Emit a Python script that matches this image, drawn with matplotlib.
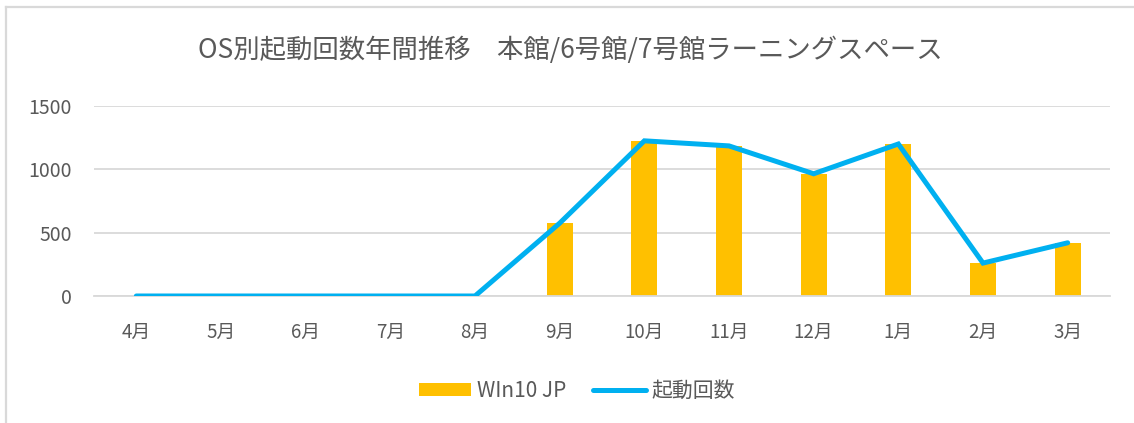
import matplotlib
matplotlib.use("Agg")
import matplotlib.pyplot as plt
from matplotlib.lines import Line2D
from matplotlib.patches import Patch

plt.rcParams['font.family'] = ['Noto Sans CJK JP', 'DejaVu Sans']

months = ['4月', '5月', '6月', '7月', '8月', '9月', '10月', '11月', '12月', '1月', '2月', '3月']
win10_jp = [0, 0, 0, 0, 0, 575, 1225, 1185, 965, 1200, 260, 420]
boot_count = [0, 0, 0, 0, 0, 575, 1225, 1185, 965, 1200, 260, 420]
y_ticks = [0, 500, 1000, 1500]
title = 'OS別起動回数年間推移　本館/6号館/7号館ラーニングスペース'

W, H = 1134, 423
fig = plt.figure(figsize=(W / 100, H / 100), dpi=100)
fig.patch.set_facecolor('white')

# chart border (top and left only visible)
fig.add_artist(Line2D([6 / W, 6 / W], [0, 1 - 7 / H], transform=fig.transFigure,
                      color='#d9d9d9', lw=1.6))
fig.add_artist(Line2D([6 / W, 1], [1 - 7 / H, 1 - 7 / H], transform=fig.transFigure,
                      color='#d9d9d9', lw=1.6))

left, right = 94, 1110
top, bottom = 106, 296
ax = fig.add_axes([left / W, 1 - bottom / H, (right - left) / W, (bottom - top) / H])

x = list(range(len(months)))
ax.bar(x, win10_jp, width=0.31, color='#FFC000', zorder=2, label='WIn10 JP')
ax.plot(x, boot_count, color='#00B0F0', lw=3.6, solid_capstyle='round',
        solid_joinstyle='miter', zorder=3, label='起動回数')

ax.set_xlim(-0.5, len(months) - 0.5)
ax.set_ylim(0, 1500)
ax.set_yticks(y_ticks)
ax.set_yticklabels([str(v) for v in y_ticks])
ax.set_xticks(x)
ax.set_xticklabels(months)
ax.yaxis.grid(True, color='#d9d9d9', lw=1.3, zorder=0)
ax.set_axisbelow(True)
for s in ['top', 'right', 'left']:
    ax.spines[s].set_visible(False)
ax.spines['bottom'].set_color('#d9d9d9')
ax.spines['bottom'].set_linewidth(1.3)
ax.tick_params(axis='both', length=0, colors='#595959')
ax.tick_params(axis='x', pad=19, labelsize=13.5)
ax.tick_params(axis='y', pad=16, labelsize=14)

fig.text(570 / W, 1 - 50 / H, title, ha='center', va='center',
         fontsize=19, color='#595959')

handles = [Patch(facecolor='#FFC000', edgecolor='none', label='WIn10 JP'),
           Line2D([0], [0], color='#00B0F0', lw=3.6, solid_capstyle='round', label='起動回数')]
leg = fig.legend(handles=handles, loc='center', bbox_to_anchor=(577 / W, 1 - 391 / H),
                 ncol=2, frameon=False, fontsize=15, handlelength=2.5, handleheight=0.63,
                 columnspacing=1.3, handletextpad=0.3)
for t in leg.get_texts():
    t.set_color('#595959')

fig.savefig('out.png', dpi=100, facecolor='white')
